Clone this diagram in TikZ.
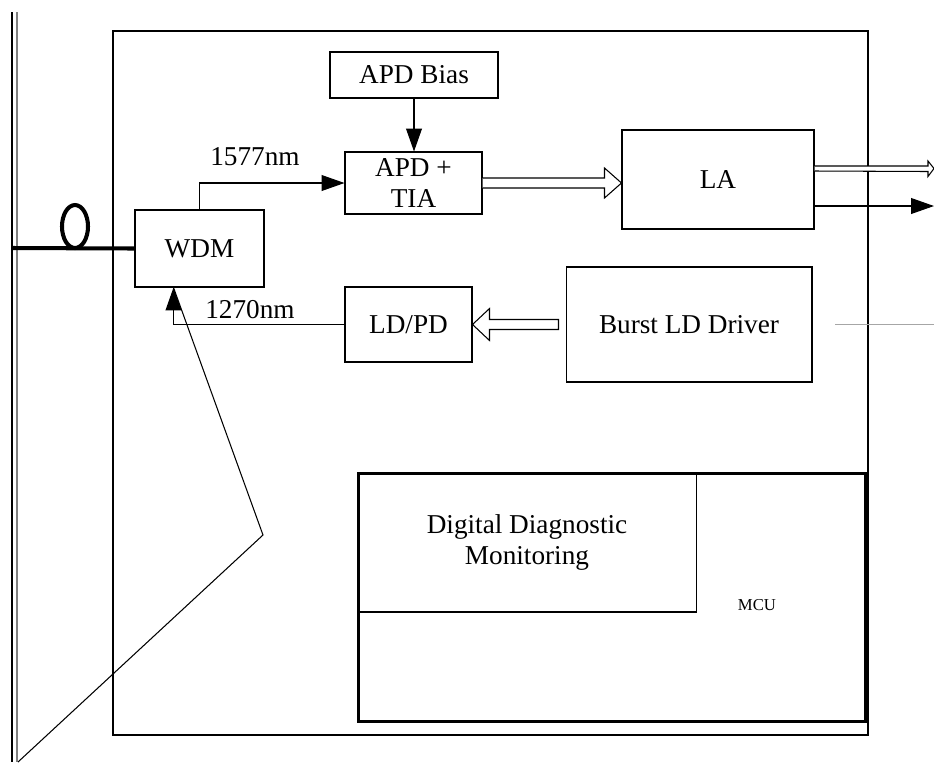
\documentclass[tikz,border=0pt]{standalone}
\usepackage{fontspec}
\setmainfont{Liberation Serif}
\usetikzlibrary{arrows.meta,calc}

\begin{document}
\begin{tikzpicture}[x=0.02cm,y=-0.02cm,line width=0.6pt,
		font=\fontsize{15.5}{18}\selectfont,
		box/.style={draw, inner sep=0pt, align=center},
		arr/.style={-{Triangle[length=13pt,width=9pt]}},
		fiber/.style={line width=2.3pt},
		hollow/.style={draw, fill=white, line join=miter}]
		\useasboundingbox (0,0) rectangle (934,762);

		\draw (12,12) -- (12,762);
		\draw[gray] (17,12) -- (17,762);
		\draw (113,31) rectangle (868,735);

		\node[box, minimum width=2.58cm, minimum height=1.54cm] (wdm) at (199.5,248.5) {WDM};
		\node[box, minimum width=3.36cm, minimum height=0.92cm] (bias) at (414,75) {APD Bias};
		\node[box, minimum width=2.74cm, minimum height=1.24cm] (tia) at (413.5,183) {APD +\\TIA};
		\node[box, minimum width=3.84cm, minimum height=1.98cm] (la) at (718,179.5) {LA};
		\node[box, minimum width=4.92cm, minimum height=2.30cm] (burst) at (689,324.5) {Burst LD Driver};
		\node[box, minimum width=2.54cm, minimum height=1.50cm] (ldpd) at (408.5,324.5) {LD/PD};
		\node[box, line width=1.7pt, minimum width=10.16cm, minimum height=4.98cm] (mcu) at (612,597.5) {};
		\node[box, minimum width=6.80cm, minimum height=2.78cm] (ddm) at (527,542.5) {Digital Diagnostic\\Monitoring};
		\node[font=\fontsize{9.5}{11}\selectfont] (mcul) at (757,605) {MCU};

		\draw[fiber] (12,248) -- (wdm.west);
		\draw[fiber] (75,226.5) ellipse [x radius=13, y radius=21.5];

		\draw[arr] (wdm.north) |- (tia.west);
		\node (l1577) at (255,157) {1577nm};
		\draw[arr] (bias.south) -- (bias.south |- tia.north);

		\coordinate (latip) at (la.west |- tia.east);
		\draw[hollow] ($(tia.east)+(0,-5)$) -- ($(latip)+(-17,-5)$) -- ++(0,-10) -- (latip)
			-- ++(-17,15) -- ++(0,-10) -- ($(tia.east)+(0,5)$);

		\coordinate (out1) at (934,168.5);
		\coordinate (out2) at (934,206);
		\draw[hollow] ($(la.east |- out1)+(0,-2.5)$) -- ($(out1)+(-6,-2.5)$) -- ++(0,-5) -- (out1)
			-- ++(-6,8) -- ++(0,-5) -- ($(la.east |- out1)+(0,2.5)$);
		\draw[arr] (la.east |- out2) -- (out2);
		\draw[gray!70, line width=0.4pt] (835,324) -- (934,324);

		\coordinate (ldtail) at ($(burst.west)+(-7,0)$);
		\draw[hollow] ($(ldtail)+(0,-5)$) -- ($(ldpd.east)+(17,-5)$) -- ++(0,-11) -- (ldpd.east)
			-- ++(17,16) -- ++(0,-11) -- ($(ldtail)+(0,5)$) -- cycle;

		\coordinate (wdmin) at ($(wdm.south west)+(39,0)$);
		\draw[arr] (ldpd.west) -| (wdmin);
		\node (l1270) at (250,310) {1270nm};

		\coordinate (bend) at (263,535);
		\draw (wdmin) -- (bend) -- (18,762);
\end{tikzpicture}
\end{document}
